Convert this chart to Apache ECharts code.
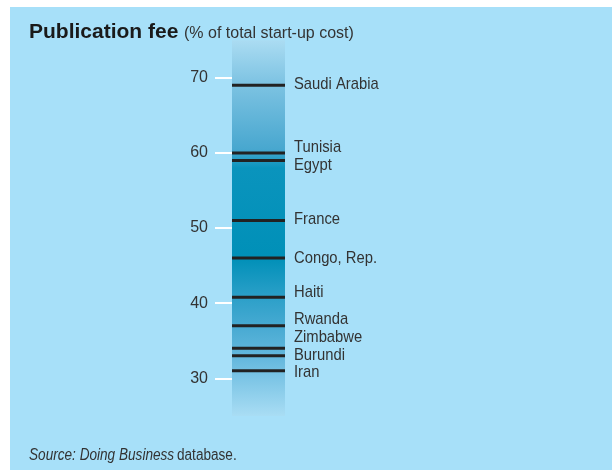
<!DOCTYPE html>
<html>
<head>
<meta charset="utf-8">
<script src="https://cdn.jsdelivr.net/npm/echarts@6/dist/echarts.min.js"></script>
<style>
  html, body { margin: 0; padding: 0; background: #fff; }
  #chart { width: 612px; height: 470px; }
</style>
</head>
<body>
<div id="chart"></div>
<script>
// publication fee, % of total start-up cost
const countries = ['Saudi Arabia', 'Tunisia', 'Egypt', 'France', 'Congo, Rep.', 'Haiti', 'Rwanda', 'Zimbabwe', 'Burundi', 'Iran']
const fees = [69, 60, 59, 51, 46, 40.8, 37, 34, 33, 31]
const tickValues = [30, 40, 50, 60, 70]
const scaleRange = [25, 75]

// label nudges (px) so the names don't collide
const labelShift = [-1, -6, 5, -1, 0, -5, -6.5, -11, -0.5, 1]

const sans = '"Liberation Sans", Arial, sans-serif'

const chart = echarts.init(document.getElementById('chart'))

const option = {
  backgroundColor: '#fff',
  animation: false,
  graphic: [
    { type: 'rect', z: -10, shape: { x: 10, y: 7, width: 602, height: 463 }, style: { fill: '#a7e0f9' } },
    {
      type: 'text', x: 29, y: 32,
      style: { text: 'Publication fee', font: 'bold 21px ' + sans, fill: '#1a1a1a', verticalAlign: 'middle' }
    },
    {
      type: 'text', x: 184, y: 33.5,
      style: { text: '(% of total start-up cost)', font: '16px ' + sans, fill: '#333', verticalAlign: 'middle' }
    },
    {
      type: 'text', x: 29, y: 455.5, scaleX: 0.85,
      style: {
        text: '{i|Source: Doing Business} {n|database.}',
        verticalAlign: 'middle',
        rich: {
          i: { fontFamily: sans, fontStyle: 'italic', fontSize: 16, fill: '#333' },
          n: { fontFamily: sans, fontSize: 16, fill: '#333' }
        }
      }
    }
  ],
  grid: { left: 232, width: 53, top: 40.2, height: 375.7 },
  xAxis: { type: 'value', min: 0, max: 1, show: false },
  yAxis: {
    type: 'value',
    min: scaleRange[0],
    max: scaleRange[1],
    axisLine: { show: false },
    splitLine: { show: false },
    axisTick: {
      show: true,
      customValues: tickValues,
      length: 17,
      lineStyle: { color: '#fff', width: 2 }
    },
    axisLabel: {
      customValues: tickValues,
      margin: 24,
      fontFamily: sans,
      fontSize: 16,
      color: '#333'
    }
  },
  series: [
    {
      // the shaded column
      type: 'custom',
      silent: true,
      z: 1,
      data: [scaleRange],
      renderItem: function (params, api) {
        const p0 = api.coord([0, api.value(1)])
        const p1 = api.coord([1, api.value(0)])
        return {
          type: 'rect',
          shape: { x: p0[0], y: p0[1], width: p1[0] - p0[0], height: p1[1] - p0[1] },
          style: {
            fill: new echarts.graphic.LinearGradient(0, 0, 0, 1, [
              { offset: 0, color: '#abdcf2' },
              { offset: 0.11, color: '#7fc4e3' },
              { offset: 0.29, color: '#48a7cf' },
              { offset: 0.34, color: '#0a94bd' },
              { offset: 0.58, color: '#0090b8' },
              { offset: 0.68, color: '#2a9fc8' },
              { offset: 0.77, color: '#4aabd3' },
              { offset: 0.85, color: '#66b9de' },
              { offset: 1, color: '#a9ddf4' }
            ])
          }
        }
      }
    },
    {
      type: 'custom',
      z: 3,
      data: fees.map((v, i) => [i, v]),
      renderItem: function (params, api) {
        const i = api.value(0)
        const v = api.value(1)
        const a = api.coord([0, v])
        const b = api.coord([1, v])
        return {
          type: 'group',
          children: [
            {
              type: 'line',
              shape: { x1: a[0], y1: a[1], x2: b[0], y2: b[1] },
              style: { stroke: '#222', lineWidth: 3 }
            },
            {
              type: 'text',
              x: b[0] + 9,
              y: b[1] + labelShift[i],
              scaleX: 0.87,
              style: { text: countries[i], font: '17px ' + sans, fill: '#333', verticalAlign: 'middle' }
            }
          ]
        }
      }
    }
  ]
}

chart.setOption(option)
window.addEventListener('resize', function () {
  chart.resize()
})
</script>
</body>
</html>
